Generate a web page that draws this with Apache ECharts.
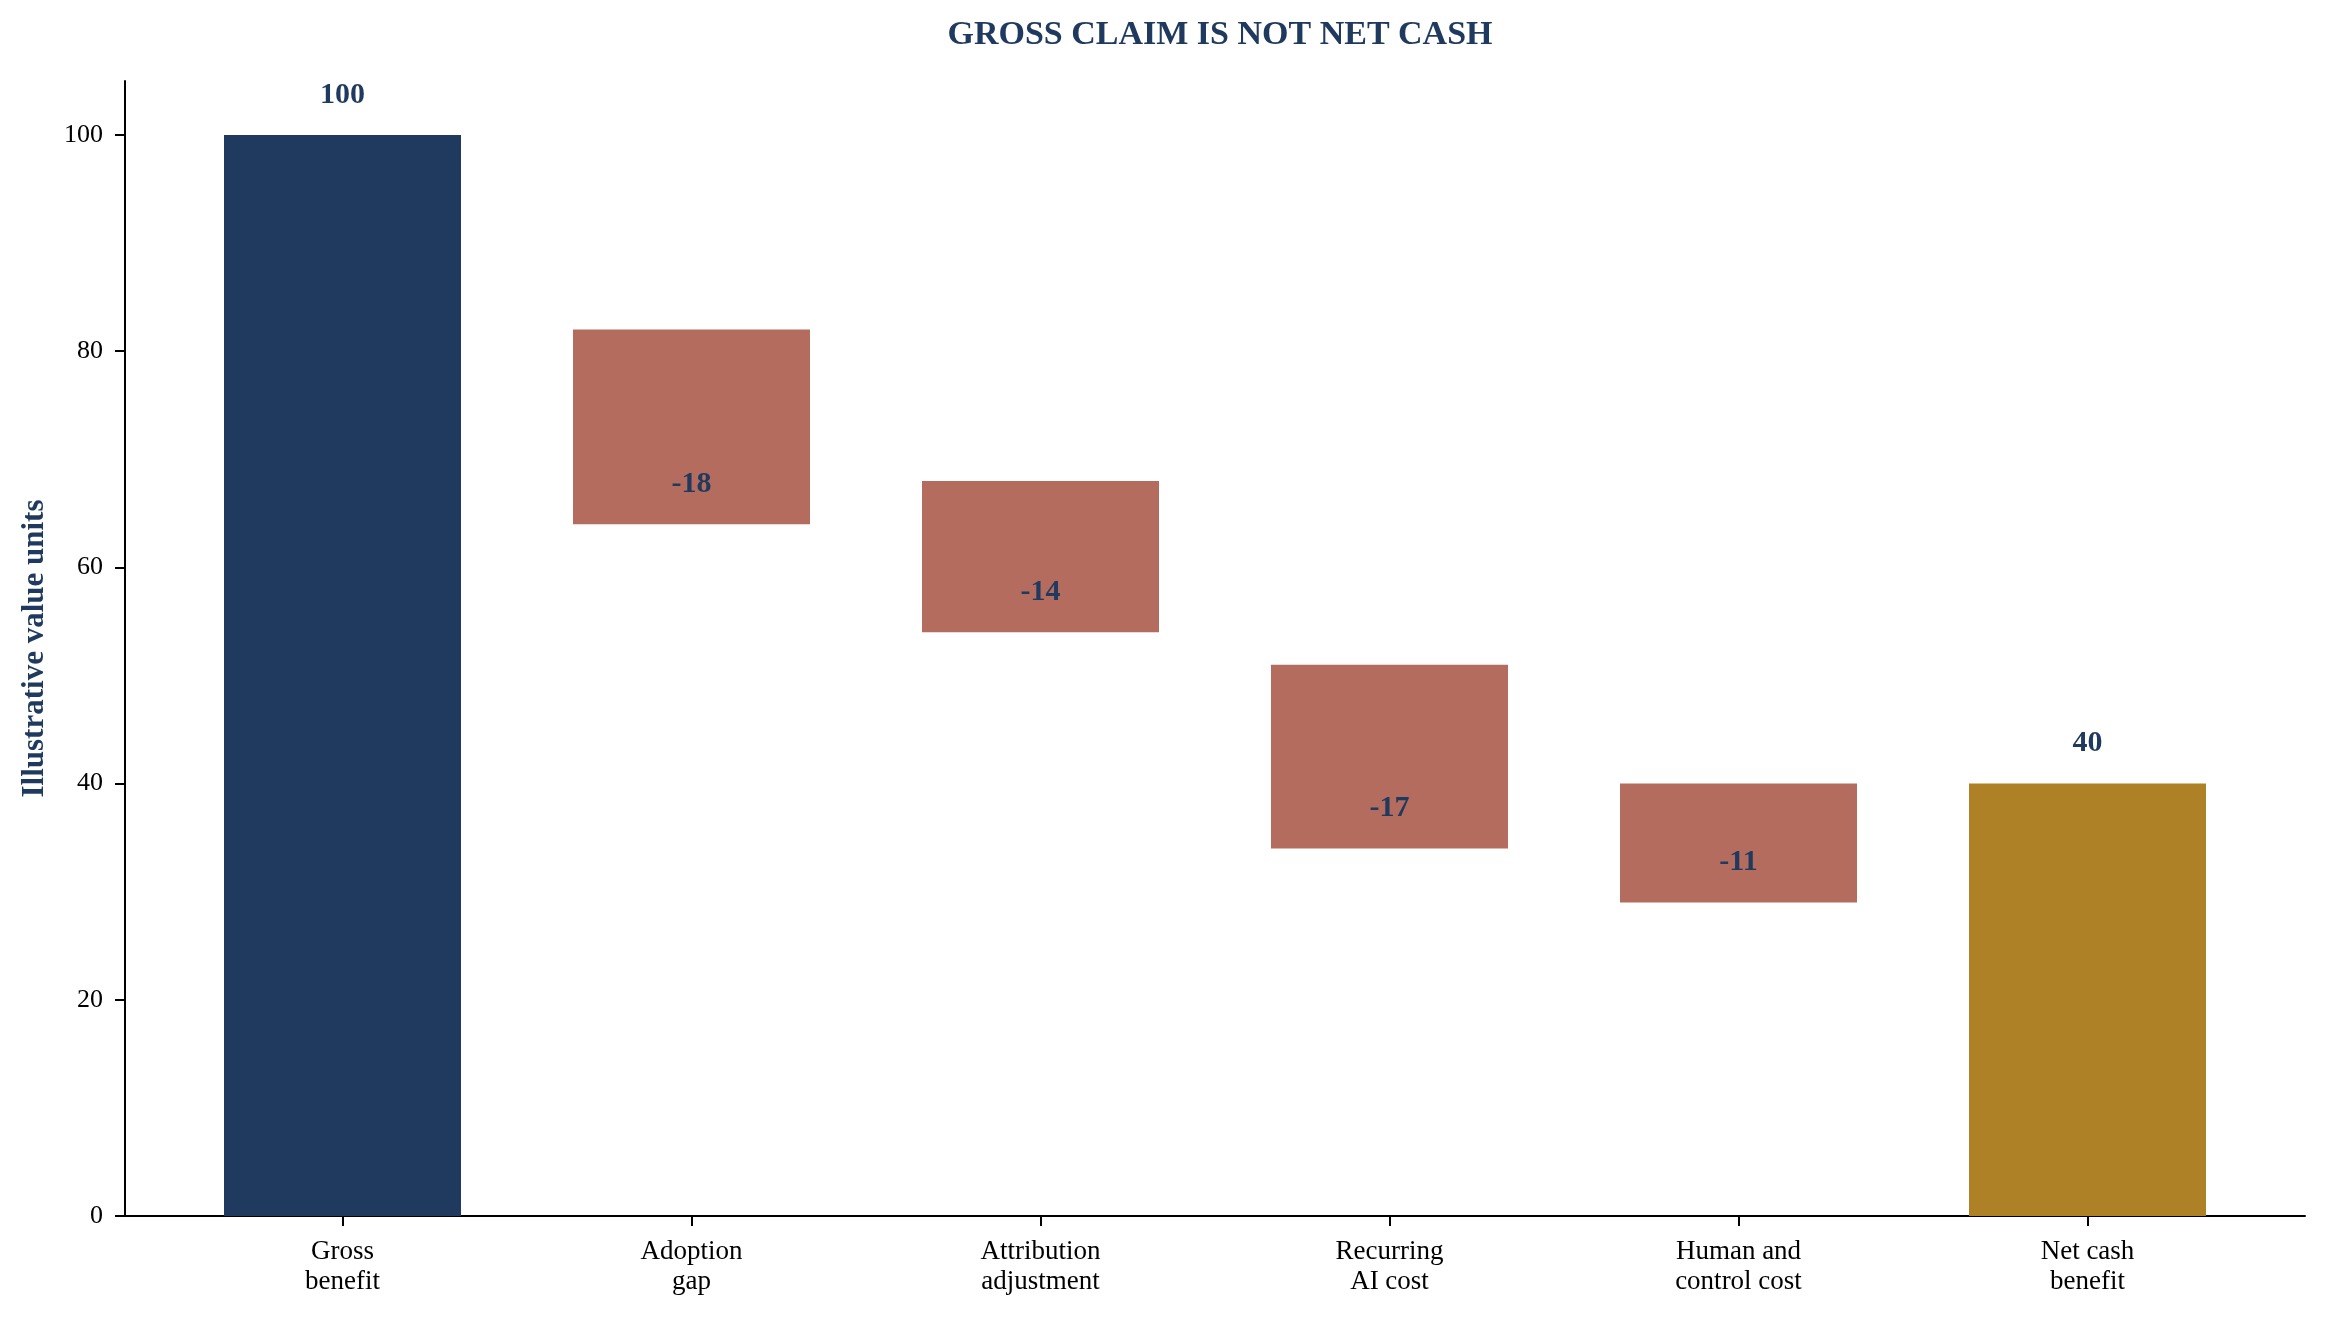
<!DOCTYPE html>
<html>
<head>
<meta charset="utf-8">
<title>Gross claim is not net cash</title>
<script src="https://cdn.jsdelivr.net/npm/echarts@6/dist/echarts.min.js"></script>
<style>
  html, body { margin: 0; padding: 0; background: #fff; }
  #chart { width: 2326px; height: 1320px; }
</style>
</head>
<body>
<div id="chart"></div>
<script>
// data
var categories = ['Gross\nbenefit', 'Adoption\ngap', 'Attribution\nadjustment', 'Recurring\nAI cost', 'Human and\ncontrol cost', 'Net cash\nbenefit'];
var barTop = [100, 82, 68, 51, 40, 40];
var barBottom = [0, 64, 54, 34, 29, 0];
var changes = [100, -18, -14, -17, -11, 40];
var kinds = ['total', 'delta', 'delta', 'delta', 'delta', 'net'];
var yTicks = [0, 20, 40, 60, 80, 100];

var NAVY = '#1f3a5e';
var colors = { total: NAVY, delta: '#b36c5d', net: '#ae8127' };
var FONT = 'Liberation Serif';

var visible = [];
for (var i = 0; i < categories.length; i++) {
    var isDelta = kinds[i] == 'delta';
    visible.push({
        value: barTop[i] - barBottom[i],
        itemStyle: { color: colors[kinds[i]] },
        label: {
            position: isDelta ? 'insideBottom' : 'top',
            distance: 25
        }
    });
}

var myChart = echarts.init(document.getElementById('chart'));
myChart.setOption({
    animation: false,
    backgroundColor: '#fff',
    title: {
        text: 'GROSS CLAIM IS NOT NET CASH',
        left: 1215,
        top: 13,
        textAlign: 'center',
        textStyle: { fontFamily: FONT, fontSize: 34, fontWeight: 'bold', color: NAVY }
    },
    grid: [
        { left: 125, right: 21, top: 81, bottom: 104 },   // spines
        { left: 168, right: 64, top: 81, bottom: 104 }    // bars
    ],
    xAxis: [
        {
            gridIndex: 0, type: 'value', min: 0, max: 1,
            axisLine: { show: true, lineStyle: { color: '#000', width: 2 } },
            axisTick: { show: false },
            axisLabel: { show: false },
            splitLine: { show: false }
        },
        {
            gridIndex: 1, type: 'category', data: categories,
            axisLine: { show: false },
            axisTick: { show: true, alignWithLabel: true, length: 10, lineStyle: { color: '#000', width: 2 } },
            axisLabel: { interval: 0, margin: 21, fontFamily: FONT, fontSize: 27, lineHeight: 30, color: '#000' },
            splitLine: { show: false }
        }
    ],
    yAxis: [
        {
            gridIndex: 0, type: 'value', min: 0, max: 105,
            name: 'Illustrative value units',
            nameLocation: 'middle',
            nameGap: 75,
            nameTextStyle: { fontFamily: FONT, fontSize: 31, fontWeight: 'bold', color: NAVY },
            axisLine: { show: true, lineStyle: { color: '#000', width: 2 } },
            axisTick: { show: true, length: 10, customValues: yTicks, lineStyle: { color: '#000', width: 2 } },
            axisLabel: { customValues: yTicks, margin: 22, fontFamily: FONT, fontSize: 26, color: '#000' },
            splitLine: { show: false }
        },
        {
            gridIndex: 1, type: 'value', min: 0, max: 105, show: false,
            splitLine: { show: false }
        }
    ],
    series: [
        {
            name: 'base', type: 'bar', stack: 'wf',
            xAxisIndex: 1, yAxisIndex: 1,
            barWidth: 237,
            itemStyle: { color: 'rgba(0,0,0,0)' },
            silent: true,
            data: barBottom
        },
        {
            name: 'change', type: 'bar', stack: 'wf',
            xAxisIndex: 1, yAxisIndex: 1,
            barWidth: 237,
            label: {
                show: true,
                fontFamily: FONT, fontSize: 30, fontWeight: 'bold', color: NAVY,
                formatter: function (p) { return String(changes[p.dataIndex]); }
            },
            data: visible
        }
    ]
});
</script>
</body>
</html>
